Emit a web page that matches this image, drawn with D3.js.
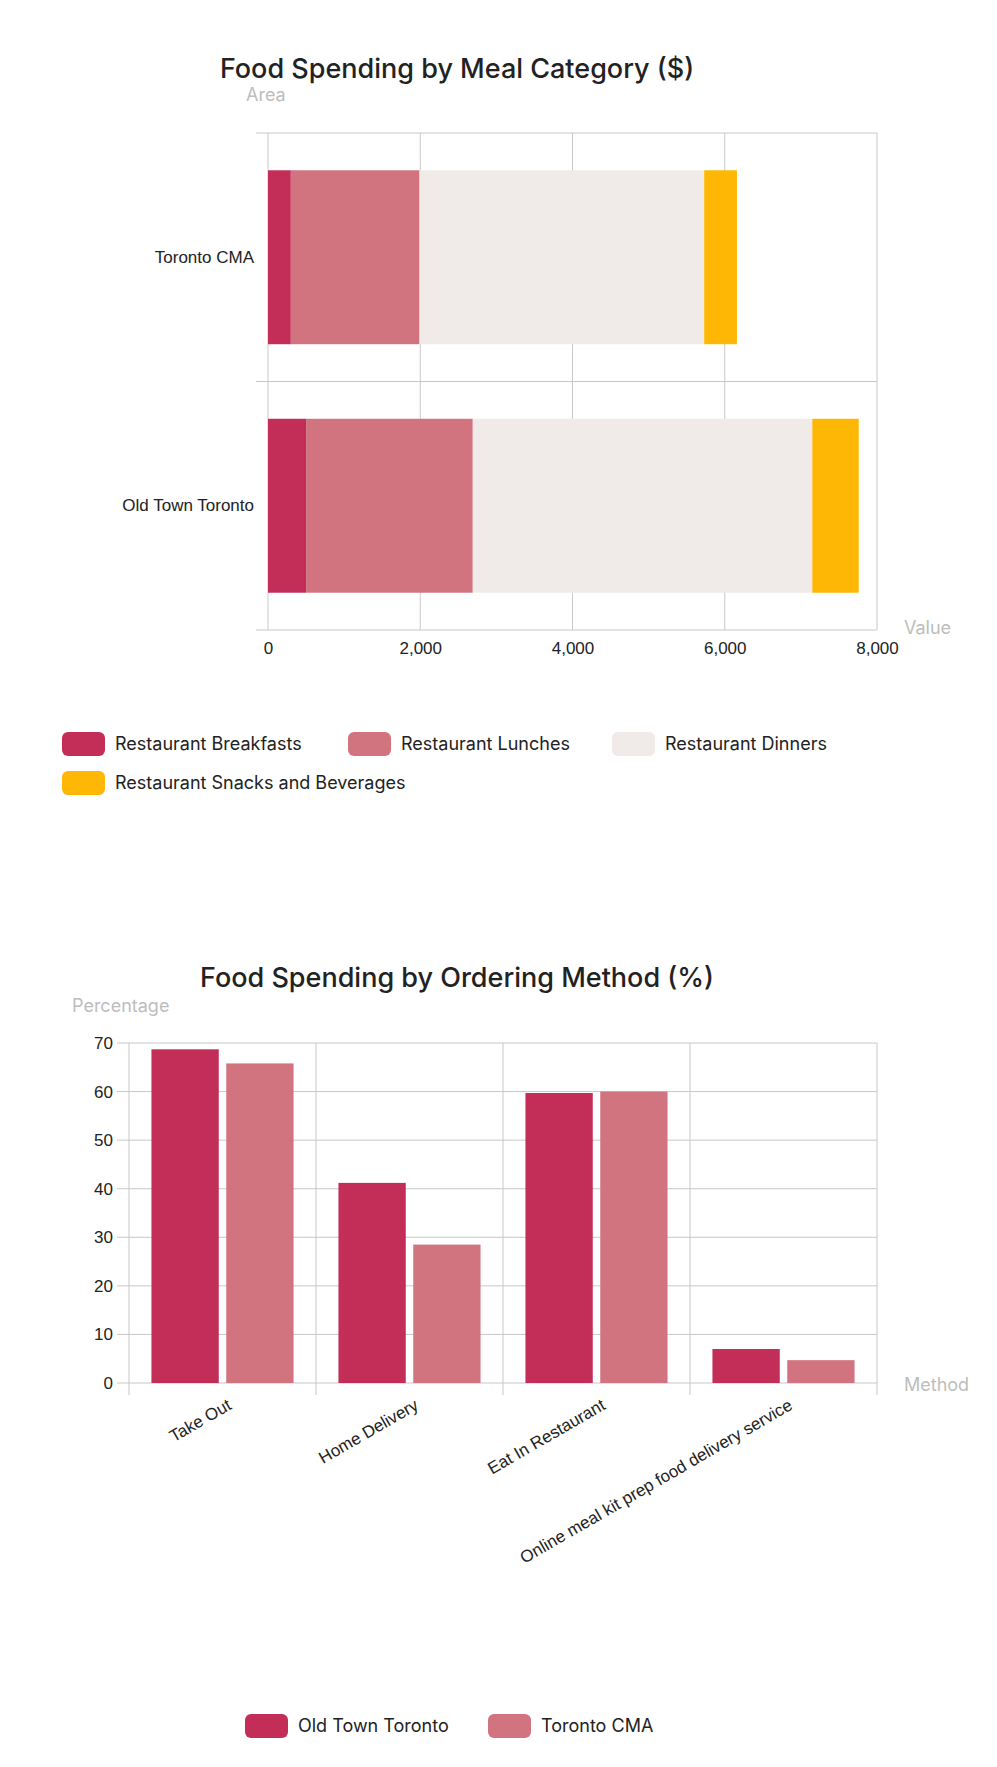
<!doctype html>
<html lang="en">
<head>
<meta charset="utf-8">
<title>Food Spending</title>
<style>
  body { margin: 0; background: #fff; font-family: Inter, "Noto Sans", sans-serif; }
  .grid line { stroke: #c8c8c8; }
  .axis text { font-size: 17px; fill: #222; }
  .axis path, .axis line { stroke: #bdbdbd; }
</style>
</head>
<body>
<svg id="chart" width="997" height="1767"></svg>
<script src="https://cdn.jsdelivr.net/npm/d3@7"></script>
<script>
// chart 1: meal categories
var areas = ["Toronto CMA", "Old Town Toronto"]
var meals = ["Restaurant Breakfasts", "Restaurant Lunches", "Restaurant Dinners", "Restaurant Snacks and Beverages"]
var breakfasts = [300, 500]
var lunches = [1690, 2190]
var dinners = [3740, 4460]
var snacks = [430, 610]
var mealColors = ["#c22e57", "#d17480", "#f0ebe8", "#fdb704"]
var valueTicks = [0, 2000, 4000, 6000, 8000]

// chart 2: ordering methods
var methods = ["Take Out", "Home Delivery", "Eat In Restaurant", "Online meal kit prep food delivery service"]
var groups = ["Old Town Toronto", "Toronto CMA"]
var oldTown = [68.7, 41.2, 59.7, 7.0]
var torontoCMA = [65.8, 28.5, 60.0, 4.7]
var groupColors = ["#c22e57", "#d17480"]
var pctTicks = [0, 10, 20, 30, 40, 50, 60, 70]

var svg = d3.select("#chart")

function legend(g, items, colors, positions) {
  items.forEach(function(name, i) {
    var p = positions[i]
    g.append("rect").attr("x", p[0]).attr("y", p[1] - 12).attr("width", 43).attr("height", 24)
      .attr("rx", 6).attr("fill", colors[i])
    g.append("text").attr("x", p[0] + 53).attr("y", p[1]).attr("dy", "0.35em")
      .attr("font-size", 18).attr("fill", "#222").text(name)
  })
}

// ---- chart 1
;(function() {
  var L = 268, R = 877, T = 133, B = 630
  var x = d3.scaleLinear().domain([0, 8000]).range([L, R])
  var y = d3.scaleBand().domain(areas).range([T, B]).paddingInner(0.3).paddingOuter(0.15)
  var yb = d3.scaleBand().domain(areas).range([T, B])
  var g = svg.append("g")

  var grid = g.append("g").attr("class", "grid")
  grid.selectAll(".v").data(valueTicks).join("line")
    .attr("x1", d => x(d)).attr("x2", d => x(d)).attr("y1", T).attr("y2", B)
  grid.selectAll(".h").data([T, T + yb.bandwidth(), B]).join("line")
    .attr("x1", L - 12).attr("x2", R).attr("y1", d => d).attr("y2", d => d)

  var rows = areas.map(function(a, i) { return {area: a, Breakfasts: breakfasts[i], Lunches: lunches[i], Dinners: dinners[i], Snacks: snacks[i]} })
  var stack = d3.stack().keys(["Breakfasts", "Lunches", "Dinners", "Snacks"])(rows)
  g.selectAll(".s").data(stack).join("g").attr("fill", (d, i) => mealColors[i])
    .selectAll("rect").data(d => d).join("rect")
    .attr("x", d => x(d[0])).attr("width", d => x(d[1]) - x(d[0]))
    .attr("y", d => y(d.data.area)).attr("height", y.bandwidth())

  var ax = g.append("g").attr("class", "axis").attr("transform", "translate(0," + B + ")")
    .call(d3.axisBottom(x).tickValues(valueTicks).tickFormat(d3.format(",")).tickSize(0).tickPadding(12))
  ax.select(".domain").remove()
  var ay = g.append("g").attr("class", "axis").attr("transform", "translate(" + L + ",0)")
    .call(d3.axisLeft(y).tickSize(0).tickPadding(14))
  ay.select(".domain").remove()

  g.append("text").attr("x", 457).attr("y", 69).attr("text-anchor", "middle").attr("dy", "0.35em")
    .attr("font-size", 27).attr("font-weight", 500).attr("fill", "#222").text("Food Spending by Meal Category ($)")
  g.append("text").attr("x", 246).attr("y", 95).attr("dy", "0.35em").attr("font-size", 18).attr("fill", "#bdbdbd").text("Area")
  g.append("text").attr("x", 904).attr("y", 628).attr("dy", "0.35em").attr("font-size", 18).attr("fill", "#bdbdbd").text("Value")

  legend(g, meals, mealColors, [[62, 744], [348, 744], [612, 744], [62, 783]])
})()

// ---- chart 2
;(function() {
  var L = 129, R = 877, T = 1043, B = 1383
  var x = d3.scaleBand().domain(methods).range([L, R])
  var xi = d3.scaleBand().domain(groups).range([0, x.bandwidth()]).paddingOuter(0.3).paddingInner(0.1)
  var y = d3.scaleLinear().domain([0, 70]).range([B, T])
  var g = svg.append("g")

  var grid = g.append("g").attr("class", "grid")
  grid.selectAll(".h").data(pctTicks).join("line")
    .attr("x1", L - 12).attr("x2", R).attr("y1", d => y(d)).attr("y2", d => y(d))
  var bounds = methods.map(m => x(m)).concat([R])
  grid.selectAll(".v").data(bounds).join("line")
    .attr("x1", d => d).attr("x2", d => d).attr("y1", T).attr("y2", B + 12)

  var series = [oldTown, torontoCMA]
  series.forEach(function(vals, s) {
    g.append("g").attr("fill", groupColors[s]).selectAll("rect").data(vals).join("rect")
      .attr("x", (d, i) => x(methods[i]) + xi(groups[s])).attr("width", xi.bandwidth())
      .attr("y", d => y(d)).attr("height", d => B - y(d))
  })

  var ay = g.append("g").attr("class", "axis").attr("transform", "translate(" + L + ",0)")
    .call(d3.axisLeft(y).tickValues(pctTicks).tickSize(0).tickPadding(16))
  ay.select(".domain").remove()
  var ax = g.append("g").attr("class", "axis").attr("transform", "translate(0," + B + ")")
    .call(d3.axisBottom(x).tickSize(0).tickPadding(10))
  ax.select(".domain").remove()
  ax.selectAll("text").attr("text-anchor", "end").attr("dy", "0.6em")
    .attr("transform", function() { return "translate(0,8) rotate(-30)" })

  g.append("text").attr("x", 457).attr("y", 978).attr("text-anchor", "middle").attr("dy", "0.35em")
    .attr("font-size", 27).attr("font-weight", 500).attr("fill", "#222").text("Food Spending by Ordering Method (%)")
  g.append("text").attr("x", 72).attr("y", 1006).attr("dy", "0.35em").attr("font-size", 18).attr("fill", "#bdbdbd").text("Percentage")
  g.append("text").attr("x", 904).attr("y", 1385).attr("dy", "0.35em").attr("font-size", 18).attr("fill", "#bdbdbd").text("Method")

  legend(g, groups, groupColors, [[245, 1726], [488, 1726]])
})()
</script>
</body>
</html>
